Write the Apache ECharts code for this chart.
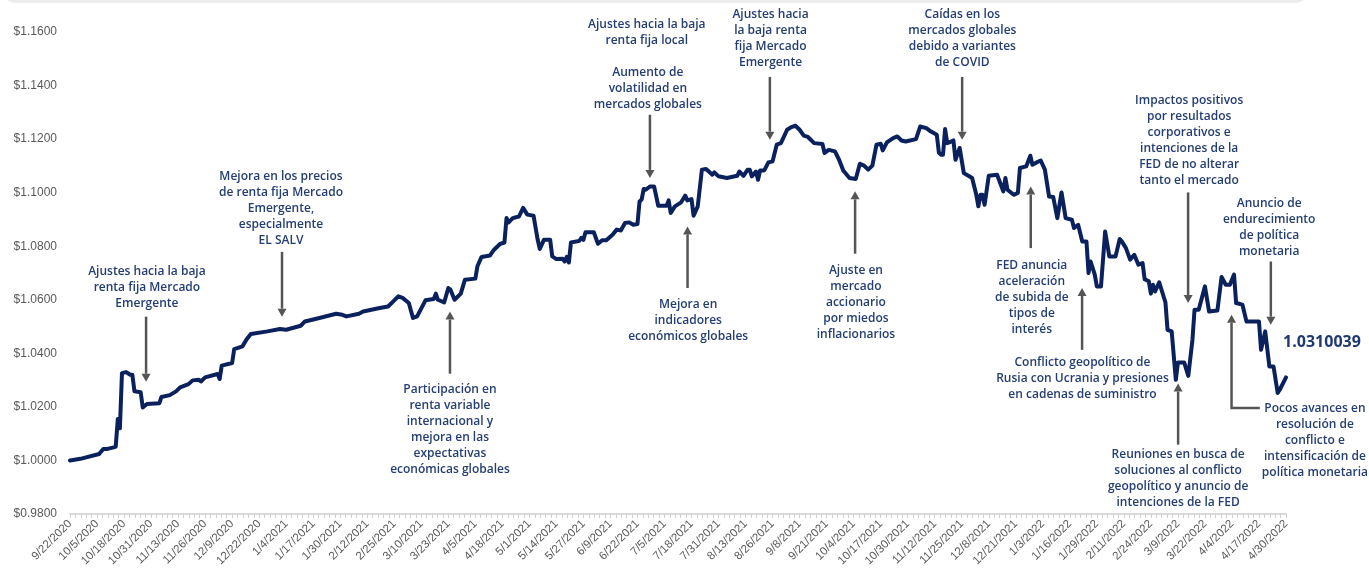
<!DOCTYPE html>
<html>
<head>
<meta charset="utf-8">
<script src="https://cdn.jsdelivr.net/npm/echarts@6/dist/echarts.min.js"></script>
<style>
html,body{margin:0;padding:0;background:#fff;}
#c{width:1369px;height:575px;}
</style>
</head>
<body>
<div id="c"></div>
<script>
// x tick labels (one every 13 days starting 9/22/2020)
const tickLabels = ["9/22/2020","10/5/2020","10/18/2020","10/31/2020","11/13/2020","11/26/2020","12/9/2020","12/22/2020","1/4/2021","1/17/2021","1/30/2021","2/12/2021","2/25/2021","3/10/2021","3/23/2021","4/5/2021","4/18/2021","5/1/2021","5/14/2021","5/27/2021","6/9/2021","6/22/2021","7/5/2021","7/18/2021","7/31/2021","8/13/2021","8/26/2021","9/8/2021","9/21/2021","10/4/2021","10/17/2021","10/30/2021","11/12/2021","11/25/2021","12/8/2021","12/21/2021","1/3/2022","1/16/2022","1/29/2022","2/11/2022","2/24/2022","3/9/2022","3/22/2022","4/4/2022","4/17/2022","4/30/2022"];

// days elapsed since 9/22/2020
const days = [0,5,14,16,18,21,22,23,24,25,27,29,30,31,34,35,37,43,44,48,51,53,57,59,62,63,65,71,72,73,78,79,83,85,87,95,101,104,111,113,120,128,131,133,139,141,149,153,156,158,160,163,165,167,171,175,176,177,180,182,183,185,188,190,195,196,198,202,204,207,209,210,211,213,216,218,220,223,225,226,228,231,232,234,237,238,239,240,241,245,246,247,248,252,254,256,258,261,263,265,267,269,271,273,274,275,276,277,279,281,283,287,288,289,291,294,296,297,299,300,302,304,306,309,310,312,316,321,322,324,326,327,328,330,331,332,334,336,338,340,342,345,347,349,351,353,355,358,362,363,365,368,370,372,375,378,380,382,384,386,388,390,391,393,396,398,400,402,407,409,412,414,417,418,419,420,421,422,423,425,426,428,430,432,434,436,437,438,439,440,442,446,449,450,451,454,456,457,460,462,463,465,467,469,471,473,475,477,479,482,483,485,487,489,490,491,493,494,496,498,500,503,505,506,508,510,512,514,516,517,519,520,521,522,524,526,527,528,530,532,533,536,538,540,541,543,546,548,552,554,556,558,560,561,564,566,572,573,575,577,579,581,582,585];

// unit value
const values = [1.0000,1.0006,1.0024,1.0043,1.0043,1.0049,1.0052,1.0155,1.0120,1.0326,1.0330,1.0320,1.0320,1.0258,1.0255,1.0198,1.0211,1.0214,1.0237,1.0244,1.0258,1.0273,1.0285,1.0299,1.0301,1.0295,1.0310,1.0323,1.0304,1.0354,1.0364,1.0416,1.0426,1.0453,1.0472,1.0482,1.0491,1.0488,1.0503,1.0519,1.0532,1.0548,1.0544,1.0538,1.0548,1.0556,1.0569,1.0575,1.0598,1.0613,1.0607,1.0588,1.0532,1.0538,1.0598,1.0603,1.0623,1.0600,1.0590,1.0644,1.0638,1.0600,1.0623,1.0675,1.0679,1.0725,1.0760,1.0765,1.0787,1.0809,1.0814,1.0905,1.0889,1.0905,1.0911,1.0943,1.0918,1.0914,1.0824,1.0790,1.0824,1.0824,1.0762,1.0752,1.0753,1.0743,1.0760,1.0739,1.0814,1.0820,1.0831,1.0824,1.0852,1.0852,1.0809,1.0822,1.0822,1.0843,1.0862,1.0859,1.0887,1.0889,1.0880,1.0883,1.0967,1.0974,1.1014,1.1011,1.1023,1.1023,1.0951,1.0951,1.0971,1.0924,1.0949,1.0964,1.0989,1.0971,1.0976,1.0914,1.0949,1.1086,1.1088,1.1067,1.1076,1.1061,1.1055,1.1063,1.1079,1.1063,1.1086,1.1086,1.1061,1.1079,1.1048,1.1083,1.1083,1.1113,1.1117,1.1179,1.1185,1.1235,1.1245,1.1250,1.1235,1.1213,1.1208,1.1185,1.1182,1.1148,1.1160,1.1154,1.1123,1.1083,1.1055,1.1051,1.1108,1.1101,1.1086,1.1101,1.1179,1.1183,1.1158,1.1188,1.1204,1.1210,1.1195,1.1191,1.1200,1.1247,1.1241,1.1229,1.1216,1.1150,1.1142,1.1142,1.1238,1.1185,1.1188,1.1195,1.1123,1.1167,1.1073,1.1064,1.1055,1.0992,1.0949,1.0992,1.0992,1.0955,1.1063,1.1067,1.1005,1.1055,1.1011,1.0992,1.0999,1.1092,1.1098,1.1138,1.1104,1.1113,1.1120,1.1086,1.0986,1.0984,1.0905,1.1001,1.0905,1.0899,1.0868,1.0880,1.0818,1.0818,1.0700,1.0743,1.0694,1.0650,1.0650,1.0855,1.0762,1.0762,1.0827,1.0818,1.0793,1.0750,1.0768,1.0731,1.0737,1.0677,1.0669,1.0623,1.0656,1.0631,1.0665,1.0615,1.0590,1.0488,1.0482,1.0301,1.0366,1.0366,1.0316,1.0451,1.0563,1.0563,1.0650,1.0556,1.0560,1.0685,1.0656,1.0656,1.0694,1.0588,1.0582,1.0519,1.0519,1.0413,1.0482,1.0351,1.0351,1.0252,1.0264,1.0310039];

const lastValueText = "1.0310039";

// annotations anchored in data coordinates [day, value]
const annotations = [
  {text:"Ajustes hacia la baja\nrenta fija Mercado\nEmergente", label:[37.0,1.0706], arrow:[[36.6,1.0537],[36.6,1.0294]]},
  {text:"Mejora en los precios\nde renta fija Mercado\nEmergente,\nespecialmente\nEL SALV", label:[101.5,1.1060], arrow:[[102.0,1.0779],[102.0,1.0537]]},
  {text:"Participación en\nrenta variable\ninternacional y\nmejora en las\nexpectativas\neconómicas globales", label:[182.8,1.0264], arrow:[[182.8,1.0324],[182.8,1.0556]]},
  {text:"Ajustes hacia la baja\nrenta fija local", label:[277.5,1.1629], arrow:null},
  {text:"Aumento de\nvolatilidad en\nmercados globales", label:[278.0,1.1447], arrow:[[279.0,1.1291],[279.0,1.1055]]},
  {text:"Mejora en\nindicadores\neconómicos globales", label:[297.4,1.0581], arrow:[[297.1,1.0644],[297.1,1.0874]]},
  {text:"Ajustes hacia\nla baja renta\nfija Mercado\nEmergente", label:[337.0,1.1665], arrow:[[336.7,1.1432],[336.7,1.1198]]},
  {text:"Ajuste en\nmercado\naccionario\npor miedos\ninflacionarios", label:[378.1,1.0710], arrow:[[377.7,1.0772],[377.7,1.1005]]},
  {text:"Caídas en los\nmercados globales\ndebido a variantes\nde COVID", label:[429.3,1.1665], arrow:[[429.2,1.1432],[429.2,1.1198]]},
  {text:"FED anuncia\naceleración\nde subida de\ntipos de\ninterés", label:[462.7,1.0727], arrow:[[462.2,1.0793],[462.2,1.1023]]},
  {text:"Conflicto geopolítico de\nRusia con Ucrania y presiones\nen cadenas de suministro", label:[487.1,1.0364], arrow:[[486.9,1.0413],[486.9,1.0644]]},
  {text:"Impactos positivos\npor resultados\ncorporativos e\nintenciones de la\nFED de no alterar\ntanto el mercado", label:[538.4,1.1345], arrow:[[537.9,1.1001],[537.9,1.0588]]},
  {text:"Anuncio de\nendurecimiento\nde política\nmonetaria", label:[576.9,1.0959], arrow:[[577.7,1.0743],[577.7,1.0507]]},
  {text:"Reuniones en busca de\nsoluciones al conflicto\ngeopolítico y anuncio de\nintenciones de la FED", label:[533.1,1.0021], arrow:[[533.1,1.0059],[533.1,1.0287]]},
  {text:"Pocos avances en\nresolución de\nconflicto e\nintensificación de\npolítica monetaria", label:[598.9,1.0192], arrow:[[572.4,1.0196],[558.8,1.0196],[558.8,1.0544]]}
];

const chart = echarts.init(document.getElementById('c'), null, {renderer:'canvas'});
const option = {
  animation:false,
  backgroundColor:'#ffffff',
  grid:{left:70,right:83,top:32,bottom:61,containLabel:false},
  xAxis:{
    type:'value', min:0, max:585, interval:13,
    axisLine:{show:true,lineStyle:{color:'#d9d9d9',width:2}},
    axisTick:{show:true,length:4,lineStyle:{color:'#d0d0d0',width:1}},
    minorTick:{show:true,splitNumber:5,length:4,lineStyle:{color:'#d0d0d0',width:1}},
    splitLine:{show:false},
    axisLabel:{
      rotate:45, margin:8, fontSize:11.5, color:'#595959',
      fontFamily:'"Liberation Sans", Arial, sans-serif',
      showMinLabel:true, showMaxLabel:true,
      formatter:function(v){ const i=Math.round(v/13); return tickLabels[i]||''; }
    }
  },
  yAxis:{
    type:'value', min:0.98, max:1.16, interval:0.02,
    axisLine:{show:false}, axisTick:{show:false}, splitLine:{show:false},
    axisLabel:{margin:13, fontSize:12, color:'#595959',
      fontFamily:'"Liberation Sans", Arial, sans-serif',
      formatter:function(v){ return '$' + v.toFixed(4); }}
  },
  series:[{
    type:'line', showSymbol:false, silent:true,
    lineStyle:{color:'#0a215d',width:4,join:'round',cap:'round'},
    data: days.map((d,i)=>[d, values[i]])
  }]
};
chart.setOption(option);

const px = p => chart.convertToPixel({gridIndex:0}, p);
const textColor = '#243d73';
const arrowColor = '#555555';
const textFont = '600 12px "Open Sans", sans-serif';
const g = [];
g.push({type:'rect', silent:true, shape:{x:0,y:-30,width:1311,height:33,r:24}, style:{fill:'#ececec'}});

function addArrow(pts){
  const P = pts.map(px);
  const n = P.length;
  const tip = P[n-1], prev = P[n-2];
  const dx = tip[0]-prev[0], dy = tip[1]-prev[1];
  const len = Math.sqrt(dx*dx+dy*dy);
  const ux = dx/len, uy = dy/len;
  const hl = 8, hw = 4.5;
  const base = [tip[0]-ux*hl, tip[1]-uy*hl];
  const linePts = P.slice(0,n-1).concat([base]);
  g.push({type:'polyline', silent:true, shape:{points:linePts}, style:{stroke:arrowColor, lineWidth:2.5, fill:null}});
  g.push({type:'polygon', silent:true, shape:{points:[tip,[base[0]-uy*hw, base[1]+ux*hw],[base[0]+uy*hw, base[1]-ux*hw]]}, style:{fill:arrowColor}});
}

annotations.forEach(a=>{
  const c = px(a.label);
  g.push({type:'text', silent:true, x:c[0], y:c[1]-8, style:{
    text:a.text, align:'center', textAlign:'center', verticalAlign:'top', textVerticalAlign:'top',
    lineHeight:16, font:textFont, fill:textColor}});
  if(a.arrow) addArrow(a.arrow);
});

const lv = px([583.6, 1.0441]);
g.push({type:'text', silent:true, x:lv[0], y:lv[1], style:{
  text:lastValueText, align:'left', textAlign:'left', verticalAlign:'middle', textVerticalAlign:'middle',
  font:'bold 16px "Open Sans", sans-serif', fill:'#1f3a6e'}});

chart.setOption({graphic:g});
</script>
</body>
</html>
